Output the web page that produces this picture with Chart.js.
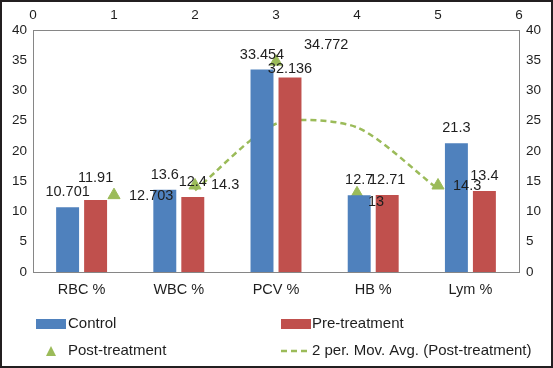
<!DOCTYPE html>
<html>
<head>
<meta charset="utf-8">
<script src="https://cdn.jsdelivr.net/npm/chart.js@4"></script>
<style>
  body { margin: 0; background: #fff; }
  canvas { display: block; }
</style>
</head>
<body>
<canvas id="chart" width="553" height="368"></canvas>
<script>
// values
const categories = ['RBC %', 'WBC %', 'PCV %', 'HB %', 'Lym %'];
const controlValues = [10.701, 13.6, 33.454, 12.7, 21.3];
const preValues = [11.91, 12.4, 32.136, 12.71, 13.4];
const postX = [1, 2, 3, 4, 5];
const postValues = [12.703, 14.3, 34.772, 13, 14.3];
const movAvgX = [2, 3, 4, 5];
const movAvgValues = [13.5, 24.5, 23.9, 13.7];

const textColor = '#1e1e1e';
const axisColor = '#868686';
const fontFamily = "'Liberation Sans', Arial, sans-serif";

// little nudges for labels that were dragged in the original
const barLabelShift = [[0, 0, 0, 0, 0], [-7, 0, 6, 0, 0]];
const postLabelShift = [[15, 1], [16, 0], [28, -17], [11, 9], [15, 1]];

// chart.js 4.5 splits bar groups per x axis of *every* dataset,
// the scatter on x2 would halve the bars, so keep bars on their own axis
const oneAxisBars = {
    id: 'oneAxisBars',
    beforeDatasetsUpdate(chart) {
        chart.getSortedVisibleDatasetMetas().forEach(meta => {
            if (meta.type === 'bar') {
                meta.controller._getAxis = () => [meta.xAxisID];
                meta.controller._getAxisCount = () => 1;
            }
        });
    }
};

const labelPlugin = {
    id: 'labels',
    afterDatasetsDraw(chart) {
        const ctx = chart.ctx;
        ctx.save();
        ctx.font = '14.5px ' + fontFamily;
        ctx.fillStyle = textColor;
        [0, 1].forEach(di => {
            const meta = chart.getDatasetMeta(di);
            ctx.textAlign = 'center';
            ctx.textBaseline = 'alphabetic';
            meta.data.forEach((el, i) => {
                ctx.fillText(String(chart.data.datasets[di].data[i]), el.x, el.y - 11 + barLabelShift[di][i]);
            });
        });
        const post = chart.getDatasetMeta(2);
        ctx.textAlign = 'left';
        ctx.textBaseline = 'middle';
        post.data.forEach((el, i) => {
            ctx.fillText(String(postValues[i]), el.x + postLabelShift[i][0], el.y + postLabelShift[i][1]);
        });
        ctx.restore();
    },
    afterDraw(chart) {
        const ctx = chart.ctx;
        const ds = chart.data.datasets;
        ctx.save();
        ctx.font = '15px ' + fontFamily;
        ctx.textAlign = 'left';
        ctx.textBaseline = 'middle';

        // row 1: bars
        ctx.fillStyle = ds[0].backgroundColor;
        ctx.fillRect(36, 319, 30, 10);
        ctx.fillStyle = ds[1].backgroundColor;
        ctx.fillRect(281, 319, 30, 10);
        ctx.fillStyle = textColor;
        ctx.fillText(ds[0].label, 68, 324);
        ctx.fillText(ds[1].label, 312, 324);

        // row 2: marker and dashed line
        ctx.fillStyle = ds[2].backgroundColor;
        ctx.beginPath();
        ctx.moveTo(51, 346);
        ctx.lineTo(56, 356);
        ctx.lineTo(46, 356);
        ctx.closePath();
        ctx.fill();
        ctx.strokeStyle = ds[3].borderColor;
        ctx.lineWidth = 2.5;
        ctx.setLineDash([6, 4]);
        ctx.beginPath();
        ctx.moveTo(281, 351);
        ctx.lineTo(311, 351);
        ctx.stroke();
        ctx.setLineDash([]);
        ctx.fillStyle = textColor;
        ctx.fillText(ds[2].label, 68, 351);
        ctx.fillText(ds[3].label, 312, 351);

        // outer frame
        ctx.strokeStyle = '#231f20';
        ctx.lineWidth = 2;
        ctx.strokeRect(1, 1, 551, 366);
        ctx.restore();
    }
};

const tickFont = { family: fontFamily, size: 13.5 };
const noGrid = { display: false, drawTicks: false };
const axisBorder = { display: true, color: axisColor, width: 1 };

new Chart(document.getElementById('chart'), {
    type: 'bar',
    data: {
        labels: categories,
        datasets: [
            {
                label: 'Control',
                data: controlValues,
                backgroundColor: '#4f81bd',
                categoryPercentage: 0.576,
                barPercentage: 0.82,
                xAxisID: 'x',
                yAxisID: 'y'
            },
            {
                label: 'Pre-treatment',
                data: preValues,
                backgroundColor: '#c0504d',
                categoryPercentage: 0.576,
                barPercentage: 0.82,
                xAxisID: 'x',
                yAxisID: 'y'
            },
            {
                type: 'scatter',
                label: 'Post-treatment',
                data: postX.map((x, i) => ({ x: x, y: postValues[i] })),
                backgroundColor: '#9bbb59',
                borderColor: '#9bbb59',
                pointStyle: 'triangle',
                pointRadius: 7,
                xAxisID: 'x2',
                yAxisID: 'y2'
            },
            {
                type: 'line',
                label: '2 per. Mov. Avg. (Post-treatment)',
                data: movAvgX.map((x, i) => ({ x: x, y: movAvgValues[i] })),
                borderColor: '#9bbb59',
                borderWidth: 2.5,
                borderDash: [6, 4],
                tension: 0.25,
                pointRadius: 0,
                fill: false,
                xAxisID: 'x2',
                yAxisID: 'y2'
            }
        ]
    },
    options: {
        responsive: false,
        animation: false,
        devicePixelRatio: 1,
        layout: { padding: { left: 0, right: 0, top: 0, bottom: 64 } },
        plugins: {
            legend: { display: false },
            tooltip: { enabled: false }
        },
        scales: {
            x: {
                type: 'category',
                position: 'bottom',
                grid: noGrid,
                border: axisBorder,
                ticks: { color: textColor, font: { family: fontFamily, size: 14.5 }, padding: 9, maxRotation: 0 },
                afterFit(scale) { scale.height = 32; }
            },
            x2: {
                type: 'linear',
                position: 'top',
                min: 0,
                max: 6,
                offset: false,
                grid: noGrid,
                border: axisBorder,
                ticks: { color: textColor, font: tickFont, stepSize: 1, padding: 7 },
                afterFit(scale) { scale.height = 30; }
            },
            y: {
                position: 'left',
                min: 0,
                max: 40,
                grid: noGrid,
                border: axisBorder,
                ticks: { color: textColor, font: tickFont, stepSize: 5, padding: 6 },
                afterFit(scale) { scale.width = 33; }
            },
            y2: {
                position: 'right',
                min: 0,
                max: 40,
                grid: noGrid,
                border: axisBorder,
                ticks: { color: textColor, font: tickFont, stepSize: 5, padding: 7 },
                afterFit(scale) { scale.width = 34; }
            }
        }
    },
    plugins: [oneAxisBars, labelPlugin]
});
</script>
</body>
</html>
